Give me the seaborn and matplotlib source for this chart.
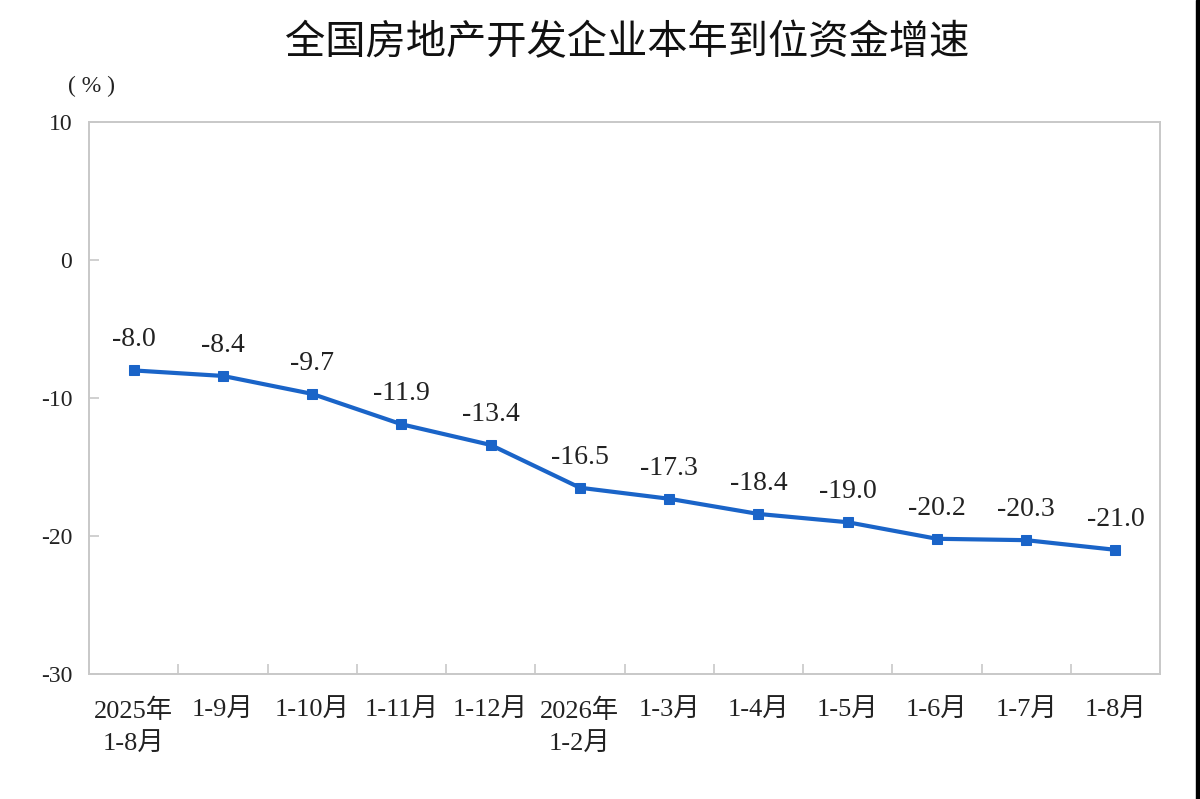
import numpy as np
import pandas as pd
import matplotlib
matplotlib.use("Agg")
import matplotlib.pyplot as plt
import seaborn as sns
from matplotlib.patches import Rectangle

sns.set_style("white")
plt.rcParams['font.family'] = ['Liberation Serif', 'Noto Sans CJK SC']
plt.rcParams['axes.unicode_minus'] = False

# data
periods = ["2025年\n1-8月", "1-9月", "1-10月", "1-11月", "1-12月", "2026年\n1-2月",
           "1-3月", "1-4月", "1-5月", "1-6月", "1-7月", "1-8月"]
growth = [-8.0, -8.4, -9.7, -11.9, -13.4, -16.5, -17.3, -18.4, -19.0, -20.2, -20.3, -21.0]
y_ticks = [10, 0, -10, -20, -30]

df = pd.DataFrame({"idx": np.arange(len(periods)), "growth": growth})

blue = "#1a64c8"
spine_gray = "#c8c8c8"
text_col = "#222222"

fig = plt.figure(figsize=(12, 7.99), dpi=100)
ax = fig.add_axes([0.0742, 0.1564, 0.8925, 0.6909])

sns.lineplot(data=df, x="idx", y="growth", ax=ax, color=blue, linewidth=3,
             marker="s", markersize=7, markeredgecolor=blue, markerfacecolor=blue)

for i, v in zip(df["idx"], df["growth"]):
    ax.annotate(f"{v:.1f}", (i, v), xytext=(0, 13), textcoords="offset points",
                ha="center", va="bottom", fontsize=20, color=text_col)

ax.set_xlim(-0.5, len(periods) - 0.5)
ax.set_ylim(-30, 10)
ax.set_yticks(y_ticks)
ax.set_yticklabels([str(t) for t in y_ticks])
ax.set_xticks(df["idx"])
ax.set_xticklabels(periods, linespacing=1.5)
ax.set_xticks(np.arange(0.5, len(periods) - 1, 1.0), minor=True)

ax.tick_params(axis="x", which="major", bottom=True, length=0, pad=18, labelsize=19,
               colors=text_col)
ax.tick_params(axis="x", which="minor", bottom=True, direction="in", length=7, width=1.2,
               color=spine_gray)
ax.tick_params(axis="y", left=True, direction="in", length=7, width=1.2, color=spine_gray,
               pad=12, labelsize=17, labelcolor=text_col)

for s in ax.spines.values():
    s.set_color(spine_gray)
    s.set_linewidth(1.4)

ax.set_xlabel("")
ax.set_ylabel("")

fig.text(0.523, 0.947, "全国房地产开发企业本年到位资金增速", ha="center", va="center",
         fontsize=29, color="#111111", family=['Noto Sans CJK SC'])
fig.text(0.076, 0.892, "( % )", ha="center", va="center", fontsize=17, color=text_col)

# dark edge at the right of the screenshot
fig.patches.append(Rectangle((1196 / 1200, 0), 4 / 1200, 1, transform=fig.transFigure,
                             color="black", zorder=10))

fig.savefig("out.png", dpi=100)
